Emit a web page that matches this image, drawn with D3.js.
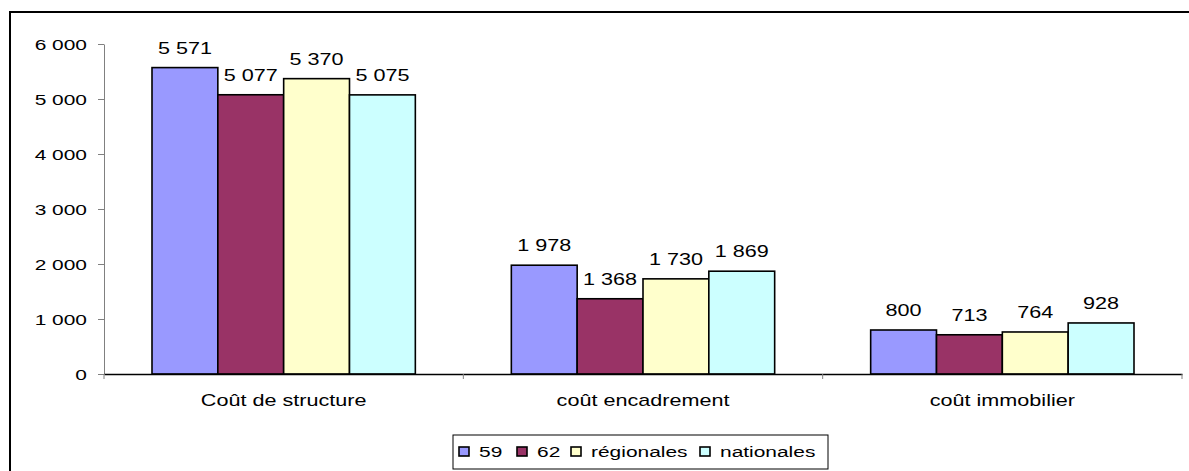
<!DOCTYPE html>
<html><head><meta charset="utf-8">
<script src="https://cdn.jsdelivr.net/npm/d3@7"></script>
<style>body{margin:0;background:#fff}svg{display:block;font-family:"Liberation Sans",Arial,sans-serif}</style>
</head><body>
<script>
const categories = ["Coût de structure", "coût encadrement", "coût immobilier"];
const seriesNames = ["59", "62", "régionales", "nationales"];
const s59 = [5571, 1978, 800];
const s62 = [5077, 1368, 713];
const sRegionales = [5370, 1730, 764];
const sNationales = [5075, 1869, 928];
const yTicks = [0, 1000, 2000, 3000, 4000, 5000, 6000];
const colors = ["#9999FF", "#993366", "#FFFFCC", "#CCFFFF"];

const seriesValues = [s59, s62, sRegionales, sNationales];
const W = 1189, H = 471;
const SX = 1.35; // horizontal text stretch of the original picture
const FF = "'Liberation Sans', Arial, sans-serif";
const svg = d3.select("body").append("svg").attr("width", W).attr("height", H);
svg.append("rect").attr("width", W).attr("height", H).attr("fill", "#fff");
// outer frame
svg.append("rect").attr("x", 10).attr("y", 12).attr("width", 1190).attr("height", 470)
  .attr("fill", "none").attr("stroke", "#000").attr("stroke-width", 2);

const fr = d3.formatLocale({decimal: ",", thousands: "\u00a0", grouping: [3], currency: ["", " €"]});
const fmt = fr.format(",d");

function stretchedText(parent, x, y, txt, size, anchor) {
  return parent.append("text")
    .attr("transform", `translate(${x},${y}) scale(${SX},1)`)
    .attr("text-anchor", anchor || "start")
    .attr("font-size", size).attr("font-family", FF).attr("fill", "#000")
    .text(txt);
}

const x0 = d3.scaleBand().domain(categories).range([104, 1182]).paddingInner(0).paddingOuter(0);
const x1 = d3.scaleBand().domain(seriesNames).range([48, x0.bandwidth() - 48]);
const y = d3.scaleLinear().domain([0, 6000]).range([374, 44]);

// y axis
const yAxis = d3.axisLeft(y).tickValues(yTicks).tickSize(6).tickSizeOuter(0).tickFormat(fmt);
const ga = svg.append("g").attr("transform", "translate(104,0)").call(yAxis);
ga.select(".domain").attr("stroke", "#808080");
ga.selectAll(".tick line").attr("stroke", "#808080");
ga.selectAll("text").attr("font-size", 15.5).attr("fill", "#000")
  .attr("x", -17 / SX).attr("dy", "0.36em")
  .attr("transform", `scale(${SX},1)`).attr("font-family", FF);

// bars
const groups = svg.append("g").selectAll("g").data(categories).join("g")
  .attr("transform", d => `translate(${x0(d)},0)`);
groups.each(function(cat, ci) {
  const g = d3.select(this);
  seriesNames.forEach((s, si) => {
    const v = seriesValues[si][ci];
    g.append("rect").attr("x", x1(s)).attr("y", y(v)).attr("width", x1.bandwidth())
      .attr("height", y(0) - y(v)).attr("fill", colors[si]).attr("stroke", "#000").attr("stroke-width", 1.6);
    stretchedText(g, x1(s) + x1.bandwidth() / 2, y(v) - 14, fmt(v), 16, "middle");
  });
});

// x axis
const xAxis = d3.axisBottom(x0).tickSize(0).tickSizeOuter(0);
const gx = svg.append("g").attr("transform", "translate(0,374)").call(xAxis);
gx.select(".domain").attr("stroke", "#000").attr("stroke-width", 1.3);
gx.selectAll("text").attr("font-size", 16).attr("fill", "#000").attr("y", 32).attr("dy", 0)
  .attr("transform", `scale(${SX},1)`).attr("font-family", FF);
// category separator ticks
const bounds = categories.map(c => x0(c)).concat([x0.range()[1]]);
svg.append("g").selectAll("line").data(bounds).join("line")
  .attr("x1", d => d).attr("x2", d => d).attr("y1", 374).attr("y2", 379)
  .attr("stroke", "#808080");

// legend
const lg = svg.append("g");
lg.append("rect").attr("x", 453).attr("y", 435).attr("width", 375).attr("height", 34)
  .attr("fill", "#fff").attr("stroke", "#000").attr("stroke-width", 1);
const legX = [459, 517, 571, 700];
seriesNames.forEach((s, i) => {
  lg.append("rect").attr("x", legX[i]).attr("y", 447).attr("width", 10).attr("height", 9)
    .attr("fill", colors[i]).attr("stroke", "#000").attr("stroke-width", 1.6);
  stretchedText(lg, legX[i] + 20, 456.5, s, 15.5, "start");
});
</script>
</body></html>
